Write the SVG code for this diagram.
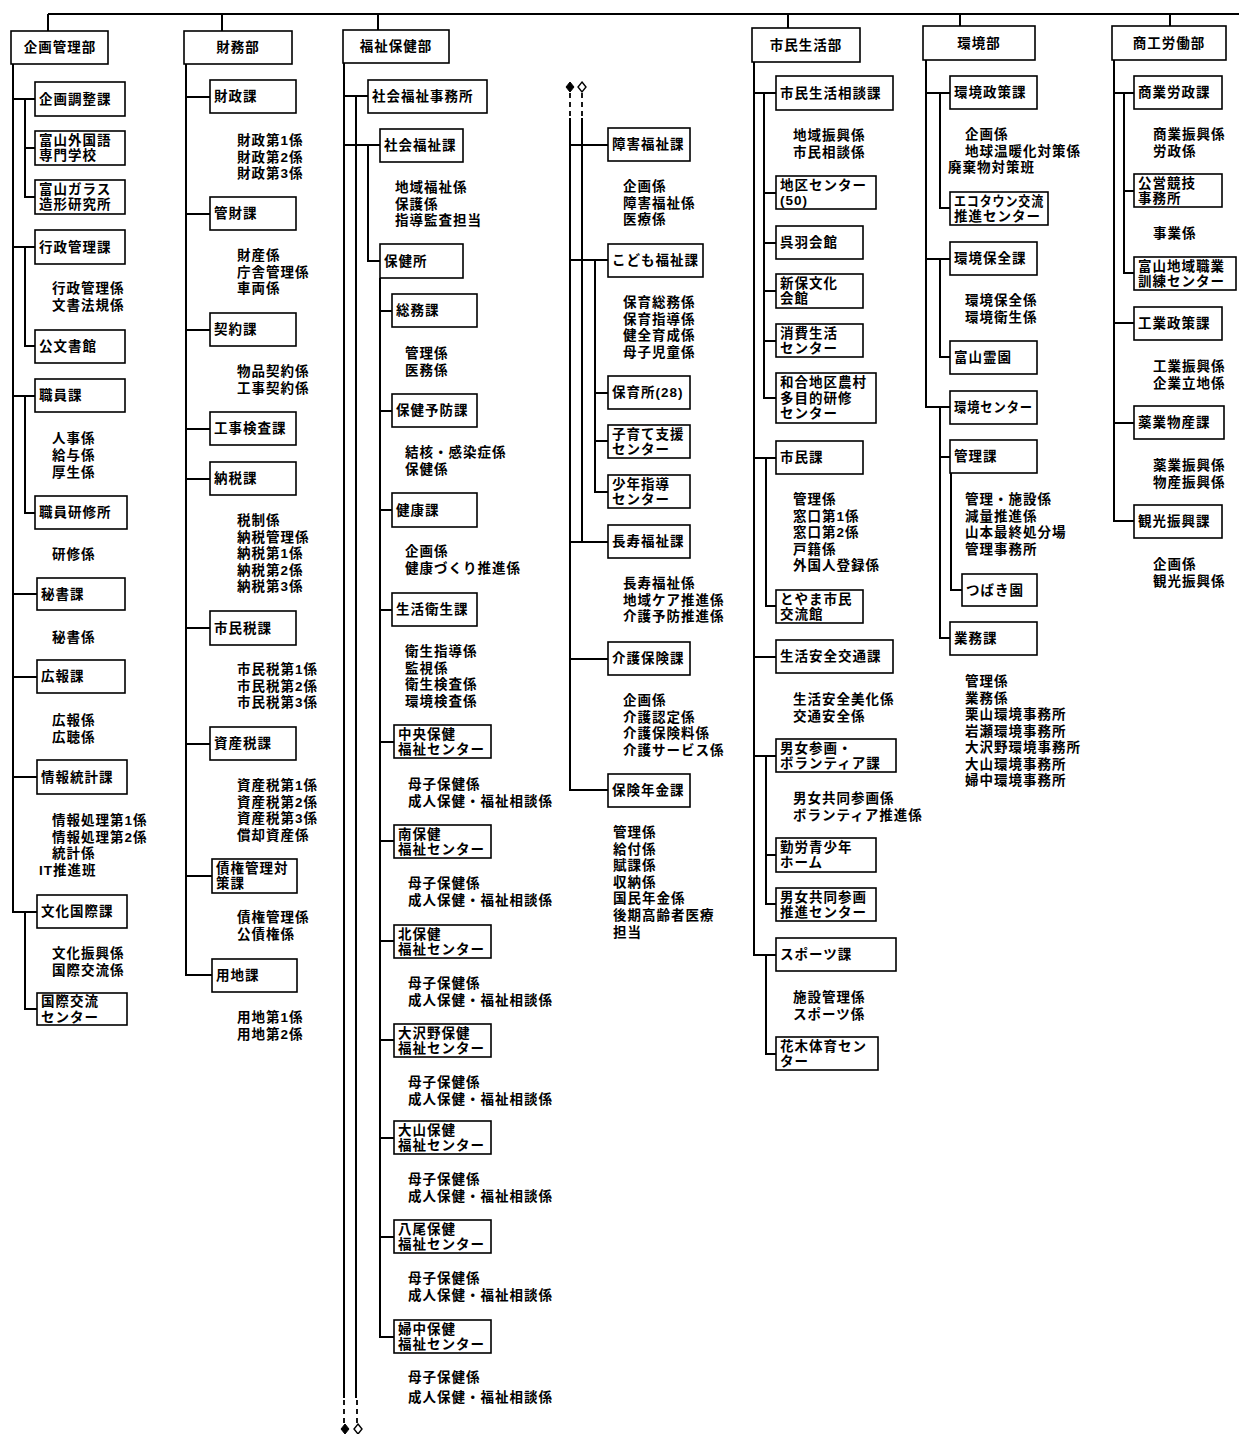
<svg xmlns="http://www.w3.org/2000/svg" width="1239" height="1434" viewBox="0 0 1239 1434">
<style>
.b{fill:#fff;stroke:#000;stroke-width:1.6}
.t{font-family:"Liberation Sans","Noto Sans CJK JP","Noto Sans CJK SC",sans-serif;font-size:13.5px;font-weight:700;fill:#000;letter-spacing:1px}
.m{text-anchor:middle}
.c{fill:none;stroke:#000;stroke-width:2}
.d{fill:none;stroke:#000;stroke-width:1.8;stroke-dasharray:5,4}
.fd{fill:#000;stroke:#000;stroke-width:1}
.od{fill:#fff;stroke:#000;stroke-width:1.4}
</style>
<rect width="1239" height="1434" fill="#fff"/>
<g id="connectors">
<path class="c" d="M48,14 H1239 M48,14 V31 M222,14 V31 M378,14 V30 M788,14 V28 M960,14 V26 M1170,14 V26"/>
<path class="c" d="M13,64 V912 H37 M13,99 H35 M13,247 H35 M13,396 H35 M13,594 H37 M13,677 H37 M13,777 H37 M25,99 V197 H35 M25,148 H35 M25,247 V346 H35 M25,396 V513 H35 M25,912 V1009 H37"/>
<path class="c" d="M186,64 V975 H212 M186,97 H210 M186,214 H210 M186,330 H210 M186,429 H210 M186,479 H210 M186,628 H210 M186,744 H210 M186,876 H212"/>
<path class="c" d="M344,63 V1398 M344,96 H368 M356,96 V1398 M344,145 H380 M368,145 V261 H380 M380,278 V1337 H394 M380,311 H392 M380,411 H392 M380,510 H392 M380,610 H392 M380,742 H394 M380,841 H394 M380,941 H394 M380,1040 H394 M380,1138 H394 M380,1237 H394"/>
<path class="d" d="M344,1400 V1424 M357,1400 V1424"/>
<polygon class="fd" points="345,1424 349,1429 345,1434 341,1429"/>
<polygon class="od" points="358,1424 362,1429 358,1434 354,1429"/>
<path class="d" d="M570,93 V120 M582,93 V120"/>
<polygon class="fd" points="570,82 574,87 570,92 566,87"/>
<polygon class="od" points="582,82 586,87 582,92 578,87"/>
<path class="c" d="M570,118 V790 H608 M570,145 H608 M570,260 H608 M570,542 H608 M570,659 H608 M582,118 V542 M595,260 V492 H608 M595,393 H608 M595,441 H608"/>
<path class="c" d="M754,62 V955 H776 M754,93 H776 M754,458 H776 M754,657 H776 M754,756 H776 M764,93 V398 H776 M764,193 H776 M764,243 H776 M764,291 H776 M764,341 H776 M766,458 V606 H776 M766,756 V904 H776 M766,855 H776 M766,955 V1054 H776"/>
<path class="c" d="M926,60 V407 H950 M926,93 H950 M926,259 H950 M940,93 V208 H950 M940,259 V357 H950 M940,407 V638 H950 M940,457 H950 M951,473 V590 H962"/>
<path class="c" d="M1114,60 V521 H1134 M1114,93 H1134 M1114,323 H1134 M1114,423 H1134 M1124,93 V273 H1134 M1124,191 H1134"/>
</g>

<g id="kikaku">
<g id="d1"><rect class="b" x="11" y="31" width="97" height="33"/><text class="t m" x="60" y="52">企画管理部</text></g>
<g id="k1"><rect class="b" x="35" y="82" width="90" height="34"/><text class="t" x="39" y="104">企画調整課</text></g>
<g id="k2"><rect class="b" x="35" y="131" width="90" height="34"/><text class="t" x="39" y="144.5">富山外国語</text><text class="t" x="39" y="160">専門学校</text></g>
<g id="k3"><rect class="b" x="35" y="180" width="90" height="34"/><text class="t" x="39" y="193.5">富山ガラス</text><text class="t" x="39" y="209">造形研究所</text></g>
<g id="k4"><rect class="b" x="35" y="230" width="90" height="34"/><text class="t" x="39" y="252">行政管理課</text></g>
<text class="t" x="52" y="293">行政管理係<tspan x="52" dy="17">文書法規係</tspan></text>
<g id="k5"><rect class="b" x="35" y="330" width="90" height="33"/><text class="t" x="39" y="351">公文書館</text></g>
<g id="k6"><rect class="b" x="35" y="379" width="90" height="33"/><text class="t" x="39" y="400">職員課</text></g>
<text class="t" x="52" y="443">人事係<tspan x="52" dy="17">給与係</tspan><tspan x="52" dy="17">厚生係</tspan></text>
<g id="k7"><rect class="b" x="35" y="496" width="92" height="33"/><text class="t" x="39" y="517">職員研修所</text></g>
<text class="t" x="52" y="559">研修係</text>
<g id="k8"><rect class="b" x="37" y="578" width="88" height="32"/><text class="t" x="41" y="599">秘書課</text></g>
<text class="t" x="52" y="642">秘書係</text>
<g id="k9"><rect class="b" x="37" y="660" width="88" height="33"/><text class="t" x="41" y="681">広報課</text></g>
<text class="t" x="52" y="725">広報係<tspan x="52" dy="17">広聴係</tspan></text>
<g id="k10"><rect class="b" x="37" y="760" width="90" height="34"/><text class="t" x="41" y="782">情報統計課</text></g>
<text class="t" x="52" y="825">情報処理第1係<tspan x="52" dy="16.5">情報処理第2係</tspan><tspan x="52" dy="16.5">統計係</tspan><tspan x="39" dy="16.5">IT推進班</tspan></text>
<g id="k11"><rect class="b" x="37" y="895" width="90" height="33"/><text class="t" x="41" y="916">文化国際課</text></g>
<text class="t" x="52" y="958">文化振興係<tspan x="52" dy="17">国際交流係</tspan></text>
<g id="k12"><rect class="b" x="37" y="993" width="90" height="32"/><text class="t" x="41" y="1006">国際交流</text><text class="t" x="41" y="1021.5">センター</text></g>
</g>

<g id="zaimu">
<g id="d2"><rect class="b" x="184" y="31" width="108" height="33"/><text class="t m" x="238" y="52">財務部</text></g>
<g id="z1"><rect class="b" x="210" y="80" width="86" height="33"/><text class="t" x="214" y="101">財政課</text></g>
<text class="t" x="237" y="145">財政第1係<tspan x="237" dy="16.5">財政第2係</tspan><tspan x="237" dy="16.5">財政第3係</tspan></text>
<g id="z2"><rect class="b" x="210" y="197" width="86" height="33"/><text class="t" x="214" y="218">管財課</text></g>
<text class="t" x="237" y="260">財産係<tspan x="237" dy="16.5">庁舎管理係</tspan><tspan x="237" dy="16.5">車両係</tspan></text>
<g id="z3"><rect class="b" x="210" y="313" width="86" height="33"/><text class="t" x="214" y="334">契約課</text></g>
<text class="t" x="237" y="376">物品契約係<tspan x="237" dy="17">工事契約係</tspan></text>
<g id="z4"><rect class="b" x="210" y="412" width="86" height="33"/><text class="t" x="214" y="433">工事検査課</text></g>
<g id="z5"><rect class="b" x="210" y="462" width="86" height="33"/><text class="t" x="214" y="483">納税課</text></g>
<text class="t" x="237" y="525">税制係<tspan x="237" dy="16.5">納税管理係</tspan><tspan x="237" dy="16.5">納税第1係</tspan><tspan x="237" dy="16.5">納税第2係</tspan><tspan x="237" dy="16.5">納税第3係</tspan></text>
<g id="z6"><rect class="b" x="210" y="611" width="86" height="34"/><text class="t" x="214" y="633">市民税課</text></g>
<text class="t" x="237" y="674">市民税第1係<tspan x="237" dy="16.5">市民税第2係</tspan><tspan x="237" dy="16.5">市民税第3係</tspan></text>
<g id="z7"><rect class="b" x="210" y="727" width="86" height="33"/><text class="t" x="214" y="748">資産税課</text></g>
<text class="t" x="237" y="790">資産税第1係<tspan x="237" dy="16.5">資産税第2係</tspan><tspan x="237" dy="16.5">資産税第3係</tspan><tspan x="237" dy="16.5">償却資産係</tspan></text>
<g id="z8"><rect class="b" x="212" y="859" width="85" height="34"/><text class="t" x="216" y="872.5">債権管理対</text><text class="t" x="216" y="888">策課</text></g>
<text class="t" x="237" y="922">債権管理係<tspan x="237" dy="17">公債権係</tspan></text>
<g id="z9"><rect class="b" x="212" y="959" width="85" height="33"/><text class="t" x="216" y="980">用地課</text></g>
<text class="t" x="237" y="1022">用地第1係<tspan x="237" dy="16.5">用地第2係</tspan></text>
</g>

<g id="fukushi">
<g id="d3"><rect class="b" x="343" y="30" width="106" height="33"/><text class="t m" x="396" y="51">福祉保健部</text></g>
<g id="f1"><rect class="b" x="368" y="80" width="119" height="33"/><text class="t" x="372" y="101">社会福祉事務所</text></g>
<g id="f2"><rect class="b" x="380" y="129" width="83" height="33"/><text class="t" x="384" y="150">社会福祉課</text></g>
<text class="t" x="395" y="192">地域福祉係<tspan x="395" dy="16.5">保護係</tspan><tspan x="395" dy="16.5">指導監査担当</tspan></text>
<g id="f3"><rect class="b" x="380" y="244" width="83" height="34"/><text class="t" x="384" y="266">保健所</text></g>
<g id="f4"><rect class="b" x="392" y="294" width="85" height="33"/><text class="t" x="396" y="315">総務課</text></g>
<text class="t" x="405" y="358">管理係<tspan x="405" dy="16.5">医務係</tspan></text>
<g id="f5"><rect class="b" x="392" y="394" width="85" height="33"/><text class="t" x="396" y="415">保健予防課</text></g>
<text class="t" x="405" y="457">結核・感染症係<tspan x="405" dy="16.5">保健係</tspan></text>
<g id="f6"><rect class="b" x="392" y="493" width="85" height="34"/><text class="t" x="396" y="515">健康課</text></g>
<text class="t" x="405" y="556">企画係<tspan x="405" dy="17">健康づくり推進係</tspan></text>
<g id="f7"><rect class="b" x="392" y="593" width="85" height="33"/><text class="t" x="396" y="614">生活衛生課</text></g>
<text class="t" x="405" y="656">衛生指導係<tspan x="405" dy="16.5">監視係</tspan><tspan x="405" dy="16.5">衛生検査係</tspan><tspan x="405" dy="16.5">環境検査係</tspan></text>
<g id="f8"><rect class="b" x="394" y="725" width="97" height="33"/><text class="t" x="398" y="738.5">中央保健</text><text class="t" x="398" y="754">福祉センター</text></g>
<text class="t" x="408" y="789">母子保健係<tspan x="408" dy="17">成人保健・福祉相談係</tspan></text>
<g id="f9"><rect class="b" x="394" y="825" width="97" height="33"/><text class="t" x="398" y="838.5">南保健</text><text class="t" x="398" y="854">福祉センター</text></g>
<text class="t" x="408" y="888">母子保健係<tspan x="408" dy="17">成人保健・福祉相談係</tspan></text>
<g id="f10"><rect class="b" x="394" y="925" width="97" height="33"/><text class="t" x="398" y="938.5">北保健</text><text class="t" x="398" y="954">福祉センター</text></g>
<text class="t" x="408" y="988">母子保健係<tspan x="408" dy="16.5">成人保健・福祉相談係</tspan></text>
<g id="f11"><rect class="b" x="394" y="1024" width="97" height="33"/><text class="t" x="398" y="1037.5">大沢野保健</text><text class="t" x="398" y="1053">福祉センター</text></g>
<text class="t" x="408" y="1087">母子保健係<tspan x="408" dy="16.5">成人保健・福祉相談係</tspan></text>
<g id="f12"><rect class="b" x="394" y="1121" width="97" height="33"/><text class="t" x="398" y="1134.5">大山保健</text><text class="t" x="398" y="1150">福祉センター</text></g>
<text class="t" x="408" y="1184">母子保健係<tspan x="408" dy="17">成人保健・福祉相談係</tspan></text>
<g id="f13"><rect class="b" x="394" y="1220" width="97" height="33"/><text class="t" x="398" y="1233.5">八尾保健</text><text class="t" x="398" y="1249">福祉センター</text></g>
<text class="t" x="408" y="1283">母子保健係<tspan x="408" dy="17">成人保健・福祉相談係</tspan></text>
<g id="f14"><rect class="b" x="394" y="1320" width="97" height="33"/><text class="t" x="398" y="1333.5">婦中保健</text><text class="t" x="398" y="1349">福祉センター</text></g>
<text class="t" x="408" y="1382">母子保健係<tspan x="408" dy="20">成人保健・福祉相談係</tspan></text>
</g>

<g id="fukushi2">
<g id="g1"><rect class="b" x="608" y="128" width="82" height="33"/><text class="t" x="612" y="149">障害福祉課</text></g>
<text class="t" x="623" y="191">企画係<tspan x="623" dy="16.5">障害福祉係</tspan><tspan x="623" dy="16.5">医療係</tspan></text>
<g id="g2"><rect class="b" x="608" y="244" width="95" height="33"/><text class="t" x="612" y="265">こども福祉課</text></g>
<text class="t" x="623" y="307">保育総務係<tspan x="623" dy="16.5">保育指導係</tspan><tspan x="623" dy="16.5">健全育成係</tspan><tspan x="623" dy="16.5">母子児童係</tspan></text>
<g id="g3"><rect class="b" x="608" y="376" width="82" height="33"/><text class="t" x="612" y="397">保育所(28)</text></g>
<g id="g4"><rect class="b" x="608" y="425" width="82" height="33"/><text class="t" x="612" y="438.5">子育て支援</text><text class="t" x="612" y="454">センター</text></g>
<g id="g5"><rect class="b" x="608" y="475" width="82" height="33"/><text class="t" x="612" y="488.5">少年指導</text><text class="t" x="612" y="504">センター</text></g>
<g id="g6"><rect class="b" x="608" y="525" width="82" height="33"/><text class="t" x="612" y="546">長寿福祉課</text></g>
<text class="t" x="623" y="588">長寿福祉係<tspan x="623" dy="16.5">地域ケア推進係</tspan><tspan x="623" dy="16.5">介護予防推進係</tspan></text>
<g id="g7"><rect class="b" x="608" y="642" width="82" height="33"/><text class="t" x="612" y="663">介護保険課</text></g>
<text class="t" x="623" y="705">企画係<tspan x="623" dy="16.5">介護認定係</tspan><tspan x="623" dy="16.5">介護保険料係</tspan><tspan x="623" dy="16.5">介護サービス係</tspan></text>
<g id="g8"><rect class="b" x="608" y="774" width="82" height="33"/><text class="t" x="612" y="795">保険年金課</text></g>
<text class="t" x="613" y="837">管理係<tspan x="613" dy="16.6">給付係</tspan><tspan x="613" dy="16.6">賦課係</tspan><tspan x="613" dy="16.6">収納係</tspan><tspan x="613" dy="16.6">国民年金係</tspan><tspan x="613" dy="16.6">後期高齢者医療</tspan><tspan x="613" dy="16.6">担当</tspan></text>
</g>

<g id="shimin">
<g id="d4"><rect class="b" x="752" y="28" width="108" height="34"/><text class="t m" x="806" y="50">市民生活部</text></g>
<g id="s1"><rect class="b" x="776" y="76" width="117" height="34"/><text class="t" x="780" y="98">市民生活相談課</text></g>
<text class="t" x="793" y="140">地域振興係<tspan x="793" dy="17">市民相談係</tspan></text>
<g id="s2"><rect class="b" x="776" y="176" width="100" height="33"/><text class="t" x="780" y="189.5">地区センター</text><text class="t" x="780" y="205">(50)</text></g>
<g id="s3"><rect class="b" x="776" y="226" width="87" height="33"/><text class="t" x="780" y="247">呉羽会館</text></g>
<g id="s4"><rect class="b" x="776" y="274" width="87" height="34"/><text class="t" x="780" y="287.5">新保文化</text><text class="t" x="780" y="303">会館</text></g>
<g id="s5"><rect class="b" x="776" y="324" width="87" height="33"/><text class="t" x="780" y="337.5">消費生活</text><text class="t" x="780" y="353">センター</text></g>
<g id="s6"><rect class="b" x="776" y="373" width="100" height="50"/><text class="t" x="780" y="387">和合地区農村</text><text class="t" x="780" y="402.5">多目的研修</text><text class="t" x="780" y="418">センター</text></g>
<g id="s7"><rect class="b" x="776" y="441" width="87" height="33"/><text class="t" x="780" y="462">市民課</text></g>
<text class="t" x="793" y="504">管理係<tspan x="793" dy="16.6">窓口第1係</tspan><tspan x="793" dy="16.6">窓口第2係</tspan><tspan x="793" dy="16.6">戸籍係</tspan><tspan x="793" dy="16.6">外国人登録係</tspan></text>
<g id="s8"><rect class="b" x="776" y="590" width="87" height="33"/><text class="t" x="780" y="603.5">とやま市民</text><text class="t" x="780" y="619">交流館</text></g>
<g id="s9"><rect class="b" x="776" y="640" width="117" height="33"/><text class="t" x="780" y="661">生活安全交通課</text></g>
<text class="t" x="793" y="704">生活安全美化係<tspan x="793" dy="16.5">交通安全係</tspan></text>
<g id="s10"><rect class="b" x="776" y="739" width="120" height="33"/><text class="t" x="780" y="752.5">男女参画・</text><text class="t" x="780" y="768">ボランティア課</text></g>
<text class="t" x="793" y="803">男女共同参画係<tspan x="793" dy="16.5">ボランティア推進係</tspan></text>
<g id="s11"><rect class="b" x="776" y="838" width="100" height="34"/><text class="t" x="780" y="851.5">勤労青少年</text><text class="t" x="780" y="867">ホーム</text></g>
<g id="s12"><rect class="b" x="776" y="888" width="100" height="33"/><text class="t" x="780" y="901.5">男女共同参画</text><text class="t" x="780" y="917">推進センター</text></g>
<g id="s13"><rect class="b" x="776" y="938" width="120" height="33"/><text class="t" x="780" y="959">スポーツ課</text></g>
<text class="t" x="793" y="1002">施設管理係<tspan x="793" dy="16.5">スポーツ係</tspan></text>
<g id="s14"><rect class="b" x="776" y="1037" width="102" height="33"/><text class="t" x="780" y="1050.5">花木体育セン</text><text class="t" x="780" y="1066">ター</text></g>
</g>

<g id="kankyo">
<g id="d5"><rect class="b" x="923" y="26" width="112" height="34"/><text class="t m" x="979" y="48">環境部</text></g>
<g id="e1"><rect class="b" x="950" y="76" width="87" height="33"/><text class="t" x="954" y="97">環境政策課</text></g>
<text class="t" x="965" y="139">企画係<tspan x="965" dy="16.5">地球温暖化対策係</tspan><tspan x="948" dy="16.5">廃棄物対策班</tspan></text>
<g id="e2"><rect class="b" x="950" y="192" width="98" height="33"/><text class="t" x="954" y="205.5" textLength="90" lengthAdjust="spacingAndGlyphs">エコタウン交流</text><text class="t" x="954" y="221">推進センター</text></g>
<g id="e3"><rect class="b" x="950" y="242" width="87" height="33"/><text class="t" x="954" y="263">環境保全課</text></g>
<text class="t" x="965" y="305">環境保全係<tspan x="965" dy="16.5">環境衛生係</tspan></text>
<g id="e4"><rect class="b" x="950" y="341" width="87" height="33"/><text class="t" x="954" y="362">富山霊園</text></g>
<g id="e5"><rect class="b" x="950" y="391" width="87" height="33"/><text class="t" x="954" y="412" textLength="79" lengthAdjust="spacingAndGlyphs">環境センター</text></g>
<g id="e6"><rect class="b" x="950" y="440" width="87" height="33"/><text class="t" x="954" y="461">管理課</text></g>
<text class="t" x="965" y="504">管理・施設係<tspan x="965" dy="16.5">減量推進係</tspan><tspan x="965" dy="16.5">山本最終処分場</tspan><tspan x="965" dy="16.5">管理事務所</tspan></text>
<g id="e7"><rect class="b" x="962" y="574" width="75" height="32"/><text class="t" x="966" y="595">つばき園</text></g>
<g id="e8"><rect class="b" x="950" y="622" width="87" height="33"/><text class="t" x="954" y="643">業務課</text></g>
<text class="t" x="965" y="686">管理係<tspan x="965" dy="16.5">業務係</tspan><tspan x="965" dy="16.5">栗山環境事務所</tspan><tspan x="965" dy="16.5">岩瀬環境事務所</tspan><tspan x="965" dy="16.5">大沢野環境事務所</tspan><tspan x="965" dy="16.5">大山環境事務所</tspan><tspan x="965" dy="16.5">婦中環境事務所</tspan></text>
</g>

<g id="shoko">
<g id="d6"><rect class="b" x="1112" y="26" width="114" height="34"/><text class="t m" x="1169" y="48">商工労働部</text></g>
<g id="h1"><rect class="b" x="1134" y="76" width="88" height="33"/><text class="t" x="1138" y="97">商業労政課</text></g>
<text class="t" x="1153" y="139">商業振興係<tspan x="1153" dy="17">労政係</tspan></text>
<g id="h2"><rect class="b" x="1134" y="174" width="88" height="33"/><text class="t" x="1138" y="187.5">公営競技</text><text class="t" x="1138" y="203">事務所</text></g>
<text class="t" x="1153" y="238">事業係</text>
<g id="h3"><rect class="b" x="1134" y="257" width="102" height="33"/><text class="t" x="1138" y="270.5">富山地域職業</text><text class="t" x="1138" y="286">訓練センター</text></g>
<g id="h4"><rect class="b" x="1134" y="307" width="88" height="33"/><text class="t" x="1138" y="328">工業政策課</text></g>
<text class="t" x="1153" y="371">工業振興係<tspan x="1153" dy="16.5">企業立地係</tspan></text>
<g id="h5"><rect class="b" x="1134" y="406" width="90" height="33"/><text class="t" x="1138" y="427">薬業物産課</text></g>
<text class="t" x="1153" y="470">薬業振興係<tspan x="1153" dy="16.5">物産振興係</tspan></text>
<g id="h6"><rect class="b" x="1134" y="505" width="88" height="33"/><text class="t" x="1138" y="526">観光振興課</text></g>
<text class="t" x="1153" y="569">企画係<tspan x="1153" dy="16.5">観光振興係</tspan></text>
</g>
</svg>
